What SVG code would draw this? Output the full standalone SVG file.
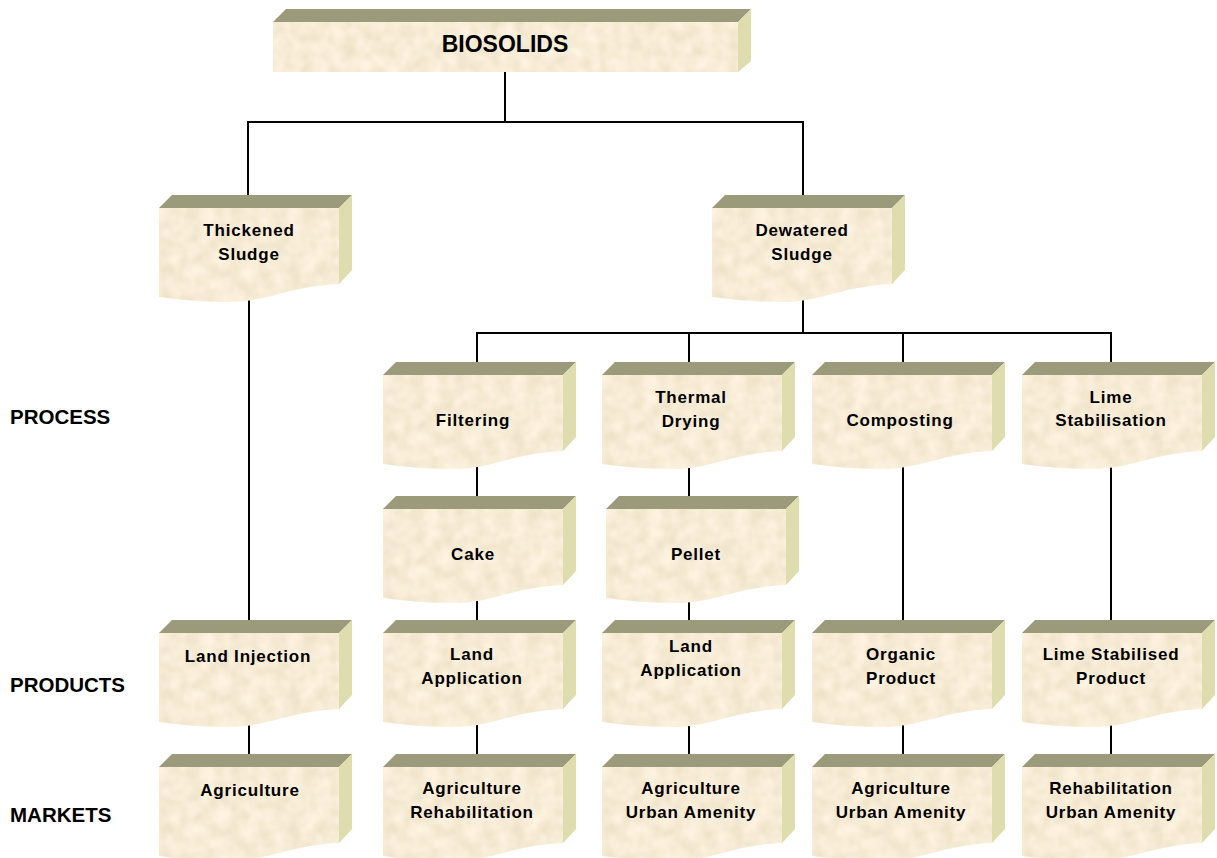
<svg xmlns="http://www.w3.org/2000/svg" xmlns:xlink="http://www.w3.org/1999/xlink" width="1217" height="858" viewBox="0 0 1217 858">
<style>
.top{fill:#9b9a7a}
.side{fill:#dfdcae}
.front{fill:#ecd8b2}
.tex{filter:url(#tex)}
.conn line{stroke:#000;stroke-width:2}
.lbl{font-family:"Liberation Sans",Arial,sans-serif;font-weight:bold;font-size:17px;letter-spacing:0.8px;text-anchor:middle;fill:#000}
.side-lbl{font-family:"Liberation Sans",Arial,sans-serif;font-weight:bold;font-size:20.5px;fill:#000}
</style>
<defs>
<filter id="tex" x="0" y="0" width="100%" height="100%">
<feTurbulence type="fractalNoise" baseFrequency="0.07" numOctaves="2" seed="4" result="n"/>
<feColorMatrix in="n" type="matrix" values="0.22 0 0 0 0.82  0.22 0 0 0 0.725  0.25 0 0 0 0.545  0 0 0 0 1" result="c"/>
<feComposite in="c" in2="SourceGraphic" operator="in"/>
</filter>
<g id="box">
<path class="top" d="M0,0 L13,-13 L193,-13 L180,0 Z"/>
<path class="side" d="M180,0 L193,-13 L193,62 L180,76 Z"/>
<path class="front tex" d="M0,0 H180 V76 C130,78 110,94 70,94 Q35,94 0,89 Z"/>
</g>
</defs>
<rect width="1217" height="858" fill="#fff"/>
<g id="connectors" class="conn">
<line x1="505" y1="72" x2="505" y2="122"/>
<line x1="247" y1="122" x2="804" y2="122"/>
<line x1="248" y1="122" x2="248" y2="196"/>
<line x1="803" y1="122" x2="803" y2="196"/>
<line x1="249" y1="298" x2="249" y2="621"/>
<line x1="249" y1="720" x2="249" y2="755"/>
<line x1="803" y1="298" x2="803" y2="333"/>
<line x1="476" y1="333" x2="1112" y2="333"/>
<line x1="477" y1="333" x2="477" y2="363"/>
<line x1="689" y1="333" x2="689" y2="363"/>
<line x1="903" y1="333" x2="903" y2="363"/>
<line x1="1111" y1="333" x2="1111" y2="363"/>
<line x1="477" y1="460" x2="477" y2="497"/>
<line x1="477" y1="595" x2="477" y2="621"/>
<line x1="477" y1="720" x2="477" y2="755"/>
<line x1="689" y1="460" x2="689" y2="497"/>
<line x1="689" y1="595" x2="689" y2="621"/>
<line x1="689" y1="720" x2="689" y2="755"/>
<line x1="903" y1="460" x2="903" y2="621"/>
<line x1="903" y1="720" x2="903" y2="755"/>
<line x1="1111" y1="460" x2="1111" y2="621"/>
<line x1="1111" y1="720" x2="1111" y2="755"/>
</g>
<g id="biosolids">
<path class="top" d="M273,22 L286,9 L751,9 L738,22 Z"/>
<path class="side" d="M738,22 L751,9 L751,61 L738,72 Z"/>
<path class="front tex" d="M273,22 H738 V72 H273 Z"/>
<text x="505" y="52" font-family="Liberation Sans, Arial, sans-serif" font-weight="bold" font-size="23" text-anchor="middle">BIOSOLIDS</text>
</g>
<g id="thickened-sludge"><use xlink:href="#box" transform="translate(159,208)"/><text class="lbl" x="249" y="236">Thickened</text><text class="lbl" x="249" y="260">Sludge</text></g>
<g id="dewatered-sludge"><use xlink:href="#box" transform="translate(712,208)"/><text class="lbl" x="802" y="236">Dewatered</text><text class="lbl" x="802" y="260">Sludge</text></g>
<g id="filtering"><use xlink:href="#box" transform="translate(383,375)"/><text class="lbl" x="473" y="426">Filtering</text></g>
<g id="thermal-drying"><use xlink:href="#box" transform="translate(602,375)"/><text class="lbl" x="691" y="403">Thermal</text><text class="lbl" x="691" y="427">Drying</text></g>
<g id="composting"><use xlink:href="#box" transform="translate(812,375)"/><text class="lbl" x="900" y="426">Composting</text></g>
<g id="lime-stabilisation"><use xlink:href="#box" transform="translate(1022,375)"/><text class="lbl" x="1111" y="403">Lime</text><text class="lbl" x="1111" y="426">Stabilisation</text></g>
<g id="cake"><use xlink:href="#box" transform="translate(383,509)"/><text class="lbl" x="473" y="560">Cake</text></g>
<g id="pellet"><use xlink:href="#box" transform="translate(606,509)"/><text class="lbl" x="696" y="560">Pellet</text></g>
<g id="land-injection"><use xlink:href="#box" transform="translate(159,633)"/><text class="lbl" x="248" y="662">Land Injection</text></g>
<g id="land-application-1"><use xlink:href="#box" transform="translate(383,633)"/><text class="lbl" x="472" y="660">Land</text><text class="lbl" x="472" y="684">Application</text></g>
<g id="land-application-2"><use xlink:href="#box" transform="translate(602,633)"/><text class="lbl" x="691" y="652">Land</text><text class="lbl" x="691" y="676">Application</text></g>
<g id="organic-product"><use xlink:href="#box" transform="translate(812,633)"/><text class="lbl" x="901" y="660">Organic</text><text class="lbl" x="901" y="684">Product</text></g>
<g id="lime-stabilised-product"><use xlink:href="#box" transform="translate(1022,633)"/><text class="lbl" x="1111" y="660">Lime Stabilised</text><text class="lbl" x="1111" y="684">Product</text></g>
<g id="agriculture"><use xlink:href="#box" transform="translate(159,767)"/><text class="lbl" x="250" y="796">Agriculture</text></g>
<g id="agri-rehab"><use xlink:href="#box" transform="translate(383,767)"/><text class="lbl" x="472" y="794">Agriculture</text><text class="lbl" x="472" y="818">Rehabilitation</text></g>
<g id="agri-urban-1"><use xlink:href="#box" transform="translate(602,767)"/><text class="lbl" x="691" y="794">Agriculture</text><text class="lbl" x="691" y="818">Urban Amenity</text></g>
<g id="agri-urban-2"><use xlink:href="#box" transform="translate(812,767)"/><text class="lbl" x="901" y="794">Agriculture</text><text class="lbl" x="901" y="818">Urban Amenity</text></g>
<g id="rehab-urban"><use xlink:href="#box" transform="translate(1022,767)"/><text class="lbl" x="1111" y="794">Rehabilitation</text><text class="lbl" x="1111" y="818">Urban Amenity</text></g>
<g id="row-labels">
<text class="side-lbl" x="10" y="424">PROCESS</text>
<text class="side-lbl" x="10" y="692">PRODUCTS</text>
<text class="side-lbl" x="10" y="822">MARKETS</text>
</g>
</svg>
